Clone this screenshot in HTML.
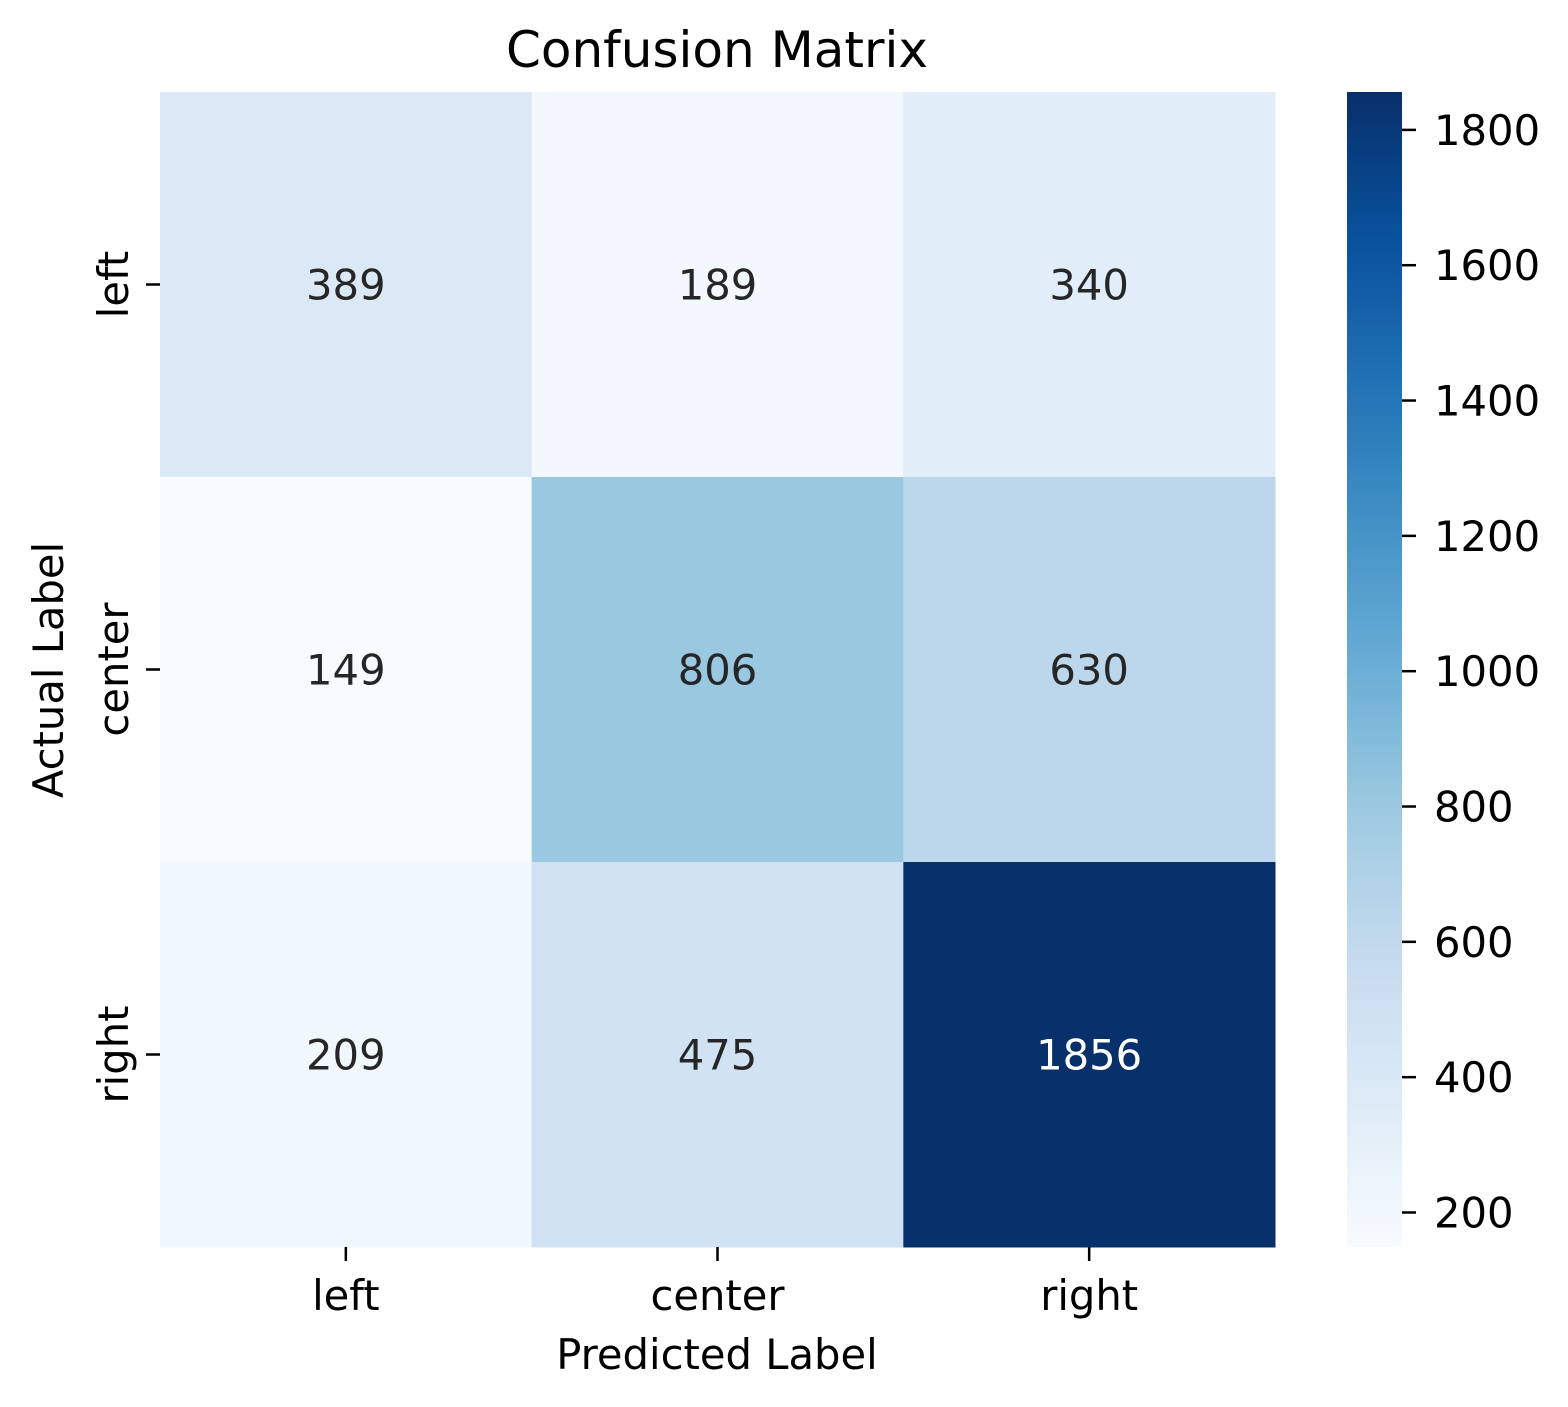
<!DOCTYPE html>
<html><head><meta charset="utf-8"><style>
html,body{margin:0;padding:0;background:#fff;}
svg{display:block;font-family:"DejaVu Sans","Liberation Sans",sans-serif;}
</style></head><body>
<svg id="chart" width="1568" height="1407" viewBox="0 0 1568 1407" xmlns="http://www.w3.org/2000/svg">
<defs>
<linearGradient id="cbgrad" x1="0" y1="1" x2="0" y2="0">
<stop offset="0" stop-color="#f7fbff"/><stop offset="0.125" stop-color="#deebf7"/>
<stop offset="0.25" stop-color="#c6dbef"/><stop offset="0.375" stop-color="#9ecae1"/>
<stop offset="0.5" stop-color="#6baed6"/><stop offset="0.625" stop-color="#4292c6"/>
<stop offset="0.75" stop-color="#2171b5"/><stop offset="0.875" stop-color="#08519c"/>
<stop offset="1" stop-color="#08306b"/>
</linearGradient>
</defs>
<text x="717" y="67" font-size="50" text-anchor="middle" fill="#000">Confusion Matrix</text>
<g id="cells"></g>
<g id="axes"></g>
<rect x="1347" y="92" width="55" height="1155" fill="url(#cbgrad)"/>
<g id="cbticks"></g>
<text x="717" y="1369" font-size="41.7" text-anchor="middle" fill="#000">Predicted Label</text>
<text transform="translate(63,670) rotate(-90)" font-size="41.7" text-anchor="middle" fill="#000">Actual Label</text>
</svg>
<script>
const categories = ["left","center","right"];
const matrix = [[389,189,340],[149,806,630],[209,475,1856]];
const cbTicks = [200,400,600,800,1000,1200,1400,1600,1800];
const vmin = 149, vmax = 1856;

const X0=160, X1=1275, Y0=92, Y1=1247;
const cw=(X1-X0)/categories.length, ch=(Y1-Y0)/categories.length;
const NS="http://www.w3.org/2000/svg";
const stops=["#f7fbff","#deebf7","#c6dbef","#9ecae1","#6baed6","#4292c6","#2171b5","#08519c","#08306b"];
function hex(h){return [1,3,5].map(i=>parseInt(h.substr(i,2),16));}
function color(v){
  let t=Math.max(0,Math.min(1,(v-vmin)/(vmax-vmin)))*(stops.length-1);
  let i=Math.min(Math.floor(t),stops.length-2), f=t-i;
  let a=hex(stops[i]), b=hex(stops[i+1]);
  return [0,1,2].map(k=>Math.round(a[k]+(b[k]-a[k])*f));
}
function mk(tag,attrs,parent,text){const e=document.createElementNS(NS,tag);for(const k in attrs)e.setAttribute(k,attrs[k]);if(text!==undefined)e.textContent=text;parent.appendChild(e);return e;}
const cells=document.getElementById('cells'), axes=document.getElementById('axes'), cbt=document.getElementById('cbticks');
matrix.forEach((row,r)=>row.forEach((v,c)=>{
  const col=color(v);
  const rect=mk('rect',{x:X0+c*cw,y:Y0+r*ch,width:cw+0.5,height:ch+0.5,fill:`rgb(${col})`},cells);
  
  
  const lum=0.299*col[0]+0.587*col[1]+0.114*col[2];
  const t=mk('text',{x:X0+(c+0.5)*cw,y:Y0+(r+0.5)*ch+15,'font-size':41.7,'text-anchor':'middle',fill:lum<128?'#ffffff':'#262626'},cells,String(v));
  
  
}));
categories.forEach((name,i)=>{
  const xc=X0+(i+0.5)*cw;
  mk('line',{x1:xc,y1:Y1,x2:xc,y2:Y1+14,stroke:'#000','stroke-width':2.5},axes);
  const xt=mk('text',{x:xc,y:1310,'font-size':41.7,'text-anchor':'middle',fill:'#000'},axes,name);
  
  
  const yc=Y0+(i+0.5)*ch;
  mk('line',{x1:X0-14,y1:yc,x2:X0,y2:yc,stroke:'#000','stroke-width':2.5},axes);
  const yt=mk('text',{transform:`translate(128,${yc}) rotate(-90)`,'font-size':41.7,'text-anchor':'middle',fill:'#000'},axes,name);
  
  
});
cbTicks.forEach(v=>{
  const y=Y1-(v-vmin)/(vmax-vmin)*(Y1-Y0);
  mk('line',{x1:1402,y1:y,x2:1416,y2:y,stroke:'#000','stroke-width':2.5},cbt);
  const t=mk('text',{x:1434,y:y+15,'font-size':41.7,fill:'#000'},cbt,String(v));
  
  
});
</script>
</body></html>
